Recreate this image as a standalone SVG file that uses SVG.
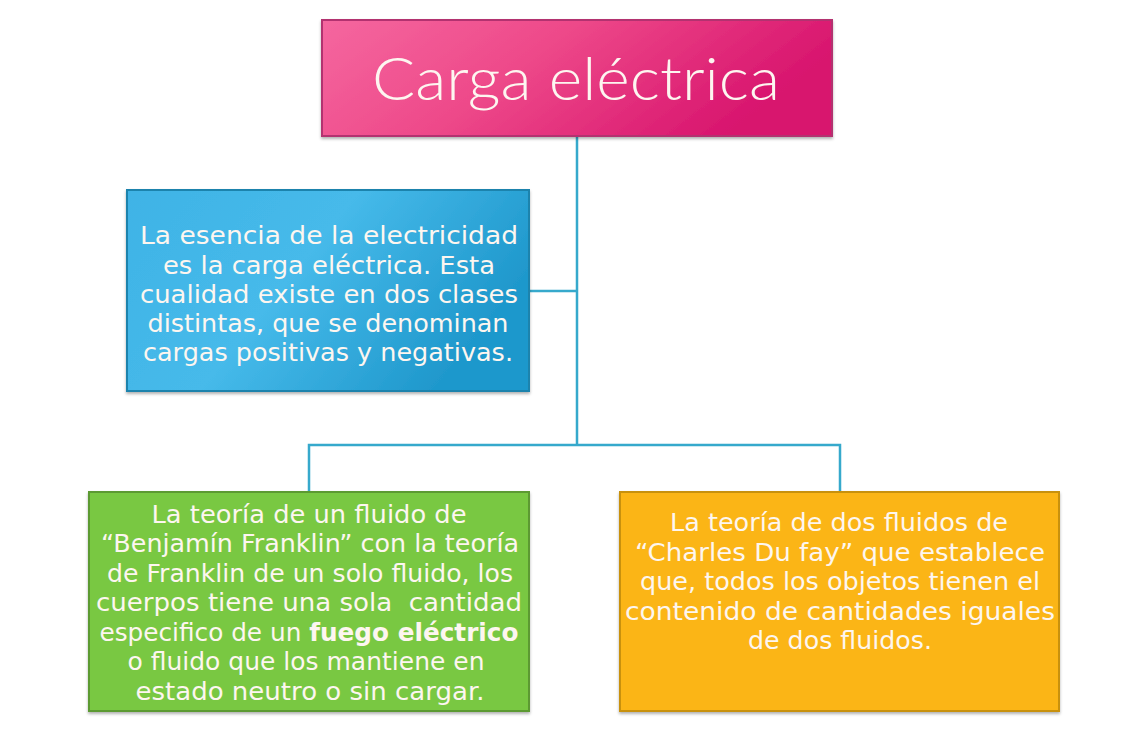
<svg xmlns="http://www.w3.org/2000/svg" width="1127" height="733" viewBox="0 0 1127 733">
<defs>
<linearGradient id="gPink" x1="0" y1="0" x2="1" y2="0.3">
<stop offset="0" stop-color="#f5679f"/><stop offset="0.45" stop-color="#ee4a8a"/><stop offset="1" stop-color="#d8156e"/>
</linearGradient>
<linearGradient id="gBlue" x1="0" y1="0" x2="1" y2="0.4">
<stop offset="0" stop-color="#3fb3e6"/><stop offset="0.5" stop-color="#46baea"/><stop offset="1" stop-color="#1f98cc"/>
</linearGradient>
<filter id="sh" x="-5%" y="-5%" width="110%" height="115%">
<feDropShadow dx="0" dy="2" stdDeviation="1.5" flood-color="#000" flood-opacity="0.3"/>
</filter>
<style>
.t{font-family:"DejaVu Sans","Liberation Sans",sans-serif;fill:#fdf6f0;text-anchor:middle;}
.b{font-size:25px;}
.h{font-family:"Lato","DejaVu Sans",sans-serif;font-weight:300;}
.conn{fill:none;stroke:#36a9cc;stroke-width:2.5;}
</style>
</defs>
<rect width="1127" height="733" fill="#ffffff"/>
<g id="connectors">
<path class="conn" d="M577,136 V445"/>
<path class="conn" d="M529,291 H577"/>
<path class="conn" d="M309,492 V445 H840 V492"/>
</g>
<g id="title">
<rect x="322" y="20" width="510" height="116" fill="url(#gPink)" stroke="#b3336f" stroke-width="2" filter="url(#sh)"/>
<text class="t h" x="576" y="100" font-size="60" textLength="408" lengthAdjust="spacingAndGlyphs">Carga eléctrica</text>
</g>
<g id="esencia">
<rect x="127" y="190" width="402" height="201" fill="url(#gBlue)" stroke="#1d83ad" stroke-width="2" filter="url(#sh)"/>
<text class="t b" x="329" y="244" textLength="378" lengthAdjust="spacingAndGlyphs">La esencia de la electricidad</text>
<text class="t b" x="329" y="274" textLength="332" lengthAdjust="spacingAndGlyphs">es la carga eléctrica. Esta</text>
<text class="t b" x="329" y="303" textLength="378" lengthAdjust="spacingAndGlyphs">cualidad existe en dos clases</text>
<text class="t b" x="328" y="332" textLength="361" lengthAdjust="spacingAndGlyphs">distintas, que se denominan</text>
<text class="t b" x="328" y="361" textLength="370" lengthAdjust="spacingAndGlyphs">cargas positivas y negativas.</text>
</g>
<g id="franklin">
<rect x="89" y="492" width="440" height="219" fill="#79c842" stroke="#5b9a33" stroke-width="2" filter="url(#sh)"/>
<text class="t b" x="309" y="523" textLength="315" lengthAdjust="spacingAndGlyphs">La teoría de un fluido de</text>
<text class="t b" x="310" y="552" textLength="418" lengthAdjust="spacingAndGlyphs">“Benjamín Franklin” con la teoría</text>
<text class="t b" x="310" y="582" textLength="406" lengthAdjust="spacingAndGlyphs">de Franklin de un solo fluido, los</text>
<text class="t b" x="309" y="611" textLength="426" lengthAdjust="spacingAndGlyphs">cuerpos tiene una sola&#160; cantidad</text>
<text class="t b" x="309" y="641" textLength="419" lengthAdjust="spacingAndGlyphs">especifico de un <tspan font-weight="bold">fuego eléctrico</tspan></text>
<text class="t b" x="306" y="670" textLength="357" lengthAdjust="spacingAndGlyphs">o fluido que los mantiene en</text>
<text class="t b" x="310" y="700" textLength="349" lengthAdjust="spacingAndGlyphs">estado neutro o sin cargar.</text>
</g>
<g id="dufay">
<rect x="620" y="492" width="439" height="219" fill="#fbb515" stroke="#c8910f" stroke-width="2" filter="url(#sh)"/>
<text class="t b" x="839" y="531" textLength="338" lengthAdjust="spacingAndGlyphs">La teoría de dos fluidos de</text>
<text class="t b" x="840" y="561" textLength="410" lengthAdjust="spacingAndGlyphs">“Charles Du fay” que establece</text>
<text class="t b" x="840" y="590" textLength="400" lengthAdjust="spacingAndGlyphs">que, todos los objetos tienen el</text>
<text class="t b" x="840" y="620" textLength="430" lengthAdjust="spacingAndGlyphs">contenido de cantidades iguales</text>
<text class="t b" x="840" y="649" textLength="184" lengthAdjust="spacingAndGlyphs">de dos fluidos.</text>
</g>
</svg>
